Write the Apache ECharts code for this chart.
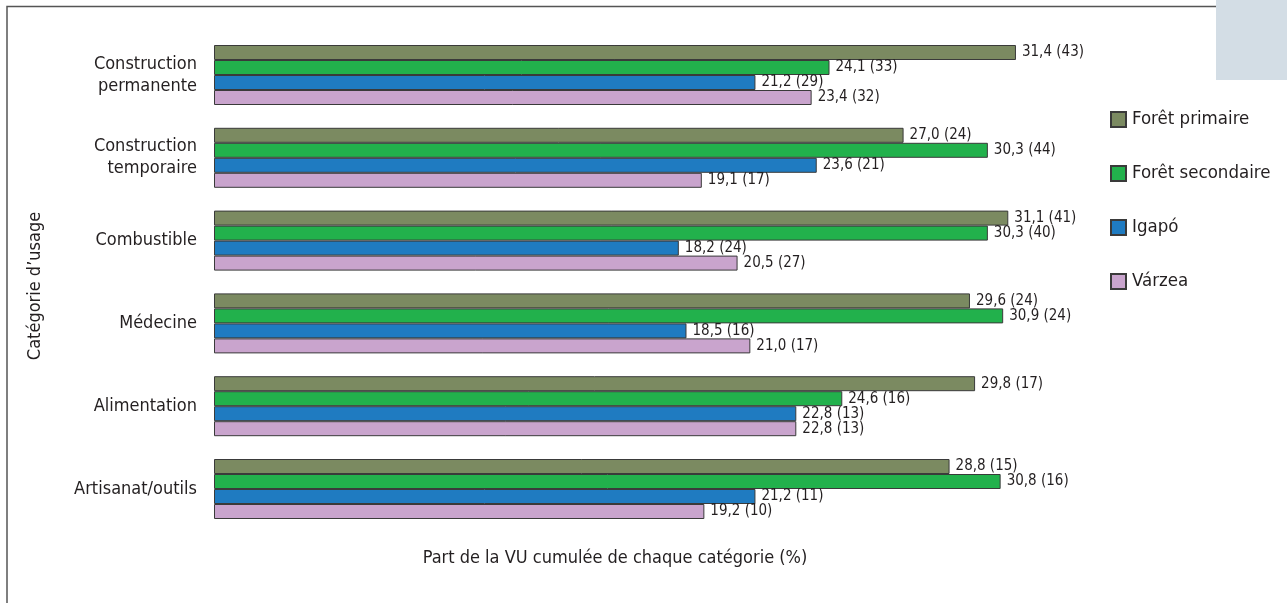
<!DOCTYPE html>
<html><head><meta charset="utf-8">
<script src="https://cdn.jsdelivr.net/npm/echarts@6/dist/echarts.min.js"></script>
<style>html,body{margin:0;padding:0;background:#fff}#c{width:1287px;height:603px}</style>
</head><body><div id="c"></div>
<script>
const categories = ['Construction\npermanente', 'Construction\ntemporaire', 'Combustible', 'Médecine', 'Alimentation', 'Artisanat/outils'];
const seriesNames = ['Forêt primaire', 'Forêt secondaire', 'Igapó', 'Várzea'];
const primaire = [31.4, 27.0, 31.1, 29.6, 29.8, 28.8];
const primaireN = [43, 24, 41, 24, 17, 15];
const secondaire = [24.1, 30.3, 30.3, 30.9, 24.6, 30.8];
const secondaireN = [33, 44, 40, 24, 16, 16];
const igapo = [21.2, 23.6, 18.2, 18.5, 22.8, 21.2];
const igapoN = [29, 21, 24, 16, 13, 11];
const varzea = [23.4, 19.1, 20.5, 21.0, 22.8, 19.2];
const varzeaN = [32, 17, 27, 17, 13, 10];
const xAxisTitle = 'Part de la VU cumulée de chaque catégorie (%)';
const yAxisTitle = 'Catégorie d’usage';

const FONT = '"Liberation Sans Narrow", "DejaVu Sans Condensed", "Roboto", sans-serif';
const colors = ['#7b8a61', '#22b14c', '#1f7bc1', '#c9a4cd'];
const values = [primaire, secondaire, igapo, varzea];
const counts = [primaireN, secondaireN, igapoN, varzeaN];

const chart = echarts.init(document.getElementById('c'));
chart.setOption({
  animation: false,
  backgroundColor: '#fff',
  color: colors,
  grid: { left: 214, top: 33.6, width: 1021.6, height: 496.8, containLabel: false },
  xAxis: { type: 'value', min: 0, max: 40, show: false },
  yAxis: {
    type: 'category', data: categories, inverse: true,
    axisLine: { show: false }, axisTick: { show: false },
    axisLabel: { color: '#231f20', fontSize: 18, fontFamily: FONT, margin: 17, lineHeight: 22, align: 'right' }
  },
  legend: {
    orient: 'vertical', left: 1105, top: 105, itemGap: 35, itemWidth: 15, itemHeight: 15,
    data: seriesNames,
    textStyle: { color: '#231f20', fontSize: 18.5, fontFamily: FONT, padding: [0, 0, 0, 1] },
    icon: 'rect'
  },
  series: seriesNames.map((name, s) => ({
    name, type: 'bar', data: values[s], barWidth: 15, barGap: '0%',
    itemStyle: { color: colors[s], borderColor: '#3a3a3a', borderWidth: 1 },
    label: {
      show: true, position: 'right', distance: 6, color: '#231f20', fontSize: 15, fontFamily: FONT,
      formatter: p => p.value.toFixed(1).replace('.', ',') + ' (' + counts[s][p.dataIndex] + ')'
    }
  })),
  graphic: [
    { type: 'polyline', shape: { points: [[7, 603], [7, 6.5], [1216, 6.5]] }, style: { stroke: '#555', lineWidth: 1.5, fill: null } },
    { type: 'rect', shape: { x: 1216, y: 0, width: 71, height: 80 }, style: { fill: '#d3dde5' } },
    { type: 'text', x: 615, y: 558, style: { text: xAxisTitle, align: 'center', verticalAlign: 'middle', fill: '#231f20', fontSize: 18, fontFamily: FONT } },
    { type: 'text', rotation: Math.PI / 2, x: 35, y: 286, style: { text: yAxisTitle, align: 'center', verticalAlign: 'middle', fill: '#231f20', fontSize: 18, fontFamily: FONT } }
  ]
});
</script></body></html>
